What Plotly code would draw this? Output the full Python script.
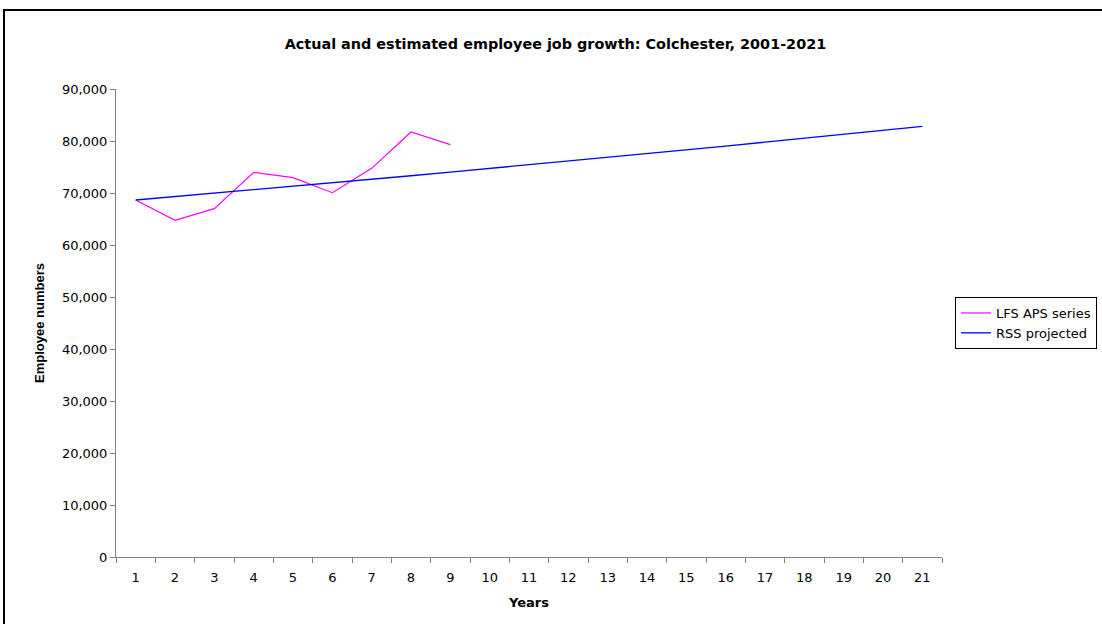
import plotly.graph_objects as go

years = [str(i) for i in range(1, 22)]
lfs_aps = [68650, 64750, 66980, 73980, 72950, 70060, 74740, 81730, 79300]
rss_projected = [68650, 69297, 69951, 70611, 71277, 71949, 72628, 73313, 74004,
                 74702, 75407, 76118, 76836, 77561, 78292, 79031, 79776, 80528,
                 81288, 82055, 82829]
y_ticks = [0, 10000, 20000, 30000, 40000, 50000, 60000, 70000, 80000, 90000]

FONT = "DejaVu Sans, Liberation Sans, sans-serif"
VFONT = "Liberation Sans, Arial, sans-serif"

fig = go.Figure()
fig.add_trace(go.Scatter(x=years[:len(lfs_aps)], y=lfs_aps, mode="lines",
                         name="LFS APS series", line=dict(color="#FF00FF", width=1.2)))
fig.add_trace(go.Scatter(x=years, y=rss_projected, mode="lines",
                         name="RSS projected", line=dict(color="#0000FF", width=1.3)))

L, R, T, B = 116, 942, 89, 557
W, H = 1102, 624
pw, ph = R - L, B - T

def px(x):
    return (x - L) / pw

def py(y):
    return (B - y) / ph

fig.update_layout(
    width=W, height=H,
    margin=dict(l=L, r=W - R, t=T, b=H - B, pad=0, autoexpand=False),
    paper_bgcolor="white", plot_bgcolor="white",
    font=dict(family=FONT, size=13, color="black"),
    title=dict(text="<b>Actual and estimated employee job growth: Colchester, 2001-2021</b>",
               x=0.504, xanchor="center", y=1 - 44 / H, yanchor="middle",
               font=dict(size=14.4, family=FONT, color="black")),
    showlegend=True,
    legend=dict(x=px(955), y=py(297), xanchor="left", yanchor="top",
                bordercolor="black", borderwidth=1, bgcolor="white",
                font=dict(size=13, family=FONT), tracegroupgap=0,
                itemwidth=30),
    xaxis=dict(type="category", categoryorder="array", categoryarray=years,
               range=[-0.5, 20.5], tickson="boundaries",
               showline=True, linecolor="#808080", linewidth=1,
               ticks="outside", ticklen=5, tickcolor="#808080",
               showgrid=False, zeroline=False, automargin=False,
               ticklabelstandoff=8,
               tickfont=dict(size=13, family=FONT),
               title=dict(text="<b>Years</b>", font=dict(size=13, family=FONT), standoff=14)),
    yaxis=dict(range=[0, 90000], tickvals=y_ticks,
               ticktext=[f"{v:,}" for v in y_ticks],
               showline=True, linecolor="#808080", linewidth=1,
               ticks="outside", ticklen=5, tickcolor="#808080",
               showgrid=False, zeroline=False, automargin=False,
               tickfont=dict(size=13, family=FONT),
               title=dict(text="<b>Employee numbers</b>", font=dict(size=13, family=VFONT), standoff=14)),
    hovermode=False,
    shapes=[dict(type="rect", xref="paper", yref="paper",
                 x0=px(4), x1=px(W + 10), y0=py(H + 10), y1=py(10),
                 line=dict(color="black", width=2), fillcolor="rgba(0,0,0,0)", layer="below")],
)

fig.write_html("out.html")
